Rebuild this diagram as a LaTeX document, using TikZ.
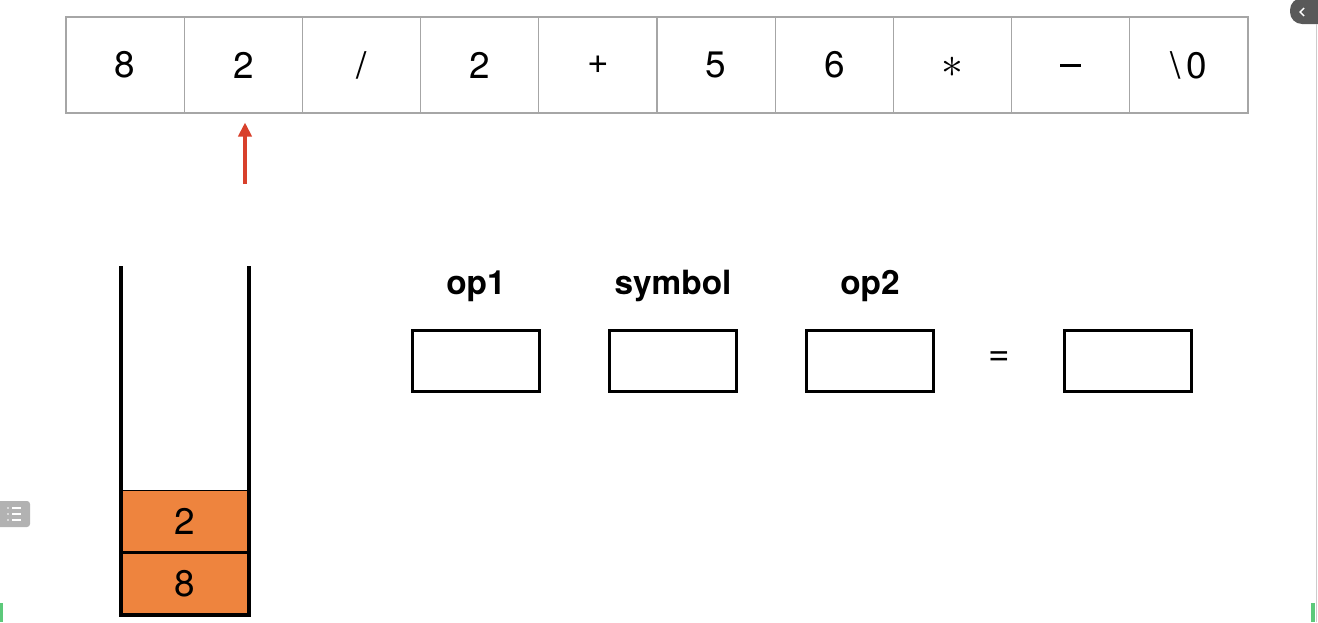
\documentclass[tikz,border=0pt]{standalone}
\usepackage{fontspec}
\setmainfont{TeX Gyre Heros}
\usetikzlibrary{positioning, arrows.meta}
\definecolor{stackorange}{HTML}{EE843E}
\definecolor{ptrred}{HTML}{D8402B}
\definecolor{uigreen}{HTML}{5CC97A}
\newcommand{\minussym}{\vphantom{0}\rule[0.3em]{0.58em}{0.08em}}
\newcommand{\astsym}{\vphantom{0}{\fontsize{28}{30}\selectfont$\ast$}}

\begin{document}
\begin{tikzpicture}[x=0.02cm, y=-0.02cm,
    cell/.style={draw=gray!70, line width=0.6pt, minimum width=2.364cm, minimum height=1.92cm, inner sep=0pt, font=\fontsize{21}{25}\selectfont},
    slot/.style={draw=black, line width=1.2pt, minimum width=2.54cm, minimum height=1.22cm},
    elem/.style={draw=black, line width=1pt, fill=stackorange, minimum width=2.56cm, minimum height=1.22cm, inner sep=0pt, font=\fontsize{21}{25}\selectfont},
    tag/.style={font=\bfseries\fontsize{19}{22}\selectfont}]
    \useasboundingbox (0,0) rectangle (1318,622);

    % Expression array
    \foreach \s [count=\i] in {8,2,/,2,+,5,6,\astsym,\minussym,\textbackslash\,0}
        \node[cell] (c\i) at ({66+118.2*(\i-0.5)},65) {\s};

    % Pointer
    \coordinate (ptr) at (245,184);
    \draw[ptrred, line width=2.2pt, shorten >=0.18cm, -{Triangle[length=8pt,width=7.5pt]}] (ptr) -- (ptr |- c2.south);

    % Stack
    \coordinate (stl) at (121,266);
    \coordinate (str) at (249,266);
    \node[elem] (e2) at (185,521) {2};
    \node[elem, below=0pt of e2] (e1) {8};
    \draw[line width=1.8pt] (stl) -- (stl |- e1.south) -- (str |- e1.south) -- (str);

    % Operands and result
    \node[slot] (op1) at (476,361) {};
    \node[slot] (sym) at (673,361) {};
    \node[slot] (op2) at (870,361) {};
    \node[font=\fontsize{21}{25}\selectfont] (eq) at (999,359) {=};
    \node[slot] (res) at (1128,361) {};
    \node[tag] (op1lbl) at (476,286) {op1};
    \node[tag] (symlbl) at (673,286) {symbol};
    \node[tag] (op2lbl) at (870,286) {op2};

    % Viewer marks
    \fill[gray!70!black, rounded corners=0.24cm] (1290,-2) rectangle (1340,24);
    \draw[white, line width=0.8pt] (1304,8) -- (1300,12) -- (1304,16);
    \draw[gray!40] (1316,24) -- (1316,622);
    \fill[gray!60, rounded corners=0.06cm] (-5,501) rectangle (30,527);
    \foreach \yy in {508,514,520} {
        \fill[white] (8,\yy) circle (0.9);
        \draw[white, line width=1pt] (12,\yy) -- (21,\yy);
    }
    \fill[uigreen] (0,603) rectangle (3,622);
    \fill[uigreen] (1311,603) rectangle (1315,622);
\end{tikzpicture}
\end{document}
